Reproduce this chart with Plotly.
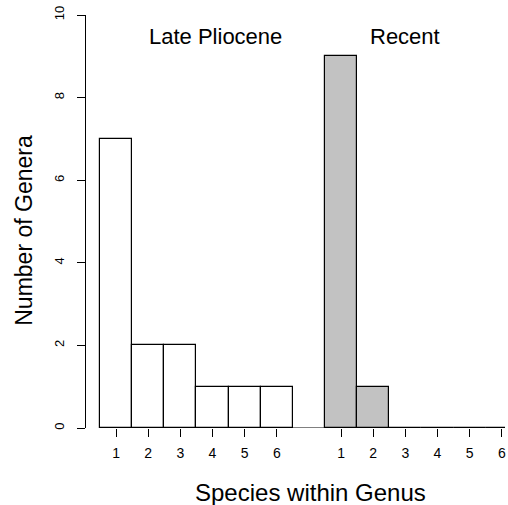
import plotly.graph_objects as go

species = [1, 2, 3, 4, 5, 6]
late_pliocene = [7, 2, 2, 1, 1, 1]
recent = [9, 1, 0, 0, 0, 0]
group_labels = ["Late Pliocene", "Recent"]
x_title = "Species within Genus"
y_title = "Number of Genera"
y_ticks = [0, 2, 4, 6, 8, 10]

gap = 1
pos_lp = [s for s in species]
pos_rc = [s + len(species) + gap for s in species]

FONT = "Liberation Sans, Arial, sans-serif"

fig = go.Figure()
fig.add_trace(go.Bar(x=pos_lp, y=late_pliocene, width=1,
                     marker=dict(color="white", line=dict(color="black", width=1.2)),
                     showlegend=False))
fig.add_trace(go.Bar(x=pos_rc, y=recent, width=1,
                     marker=dict(color="#c2c2c2", line=dict(color="black", width=1.2)),
                     showlegend=False))

# baseline axis segment (R style)
fig.add_shape(type="line", x0=pos_lp[0] - 0.5, x1=pos_rc[-1], y0=0, y1=0,
              xref="x", yref="y", line=dict(color="black", width=1))

fig.add_annotation(x=4.08, y=9.47, yref="y", xref="x",
                   text=group_labels[0], showarrow=False, yanchor="middle",
                   font=dict(family=FONT, size=22, color="black"))
fig.add_annotation(x=9.99, y=9.47, yref="y", xref="x",
                   text=group_labels[1], showarrow=False, yanchor="middle",
                   font=dict(family=FONT, size=22, color="black"))

# axis titles
fig.add_annotation(x=0.535, y=-0.155, xref="paper", yref="paper",
                   text=x_title, showarrow=False, yanchor="middle", xanchor="center",
                   font=dict(family=FONT, size=24, color="black"))
fig.add_annotation(x=-0.148, y=0.48, xref="paper", yref="paper",
                   text=y_title, showarrow=False, textangle=-90,
                   yanchor="middle", xanchor="center",
                   font=dict(family=FONT, size=23, color="black"))

fig.update_layout(
    width=508, height=505,
    margin=dict(l=86, r=3, t=15, b=77),
    plot_bgcolor="white", paper_bgcolor="white",
    bargap=0,
    font=dict(family=FONT, color="black"),
    xaxis=dict(range=[0.065, 13.1], tickmode="array",
               tickvals=pos_lp + pos_rc, ticktext=[str(s) for s in species] * 2,
               ticks="outside", ticklen=8, tickcolor="black", tickwidth=1,
               showline=False, showgrid=False, zeroline=False,
               ticklabelstandoff=4,
               tickfont=dict(size=14, family=FONT)),
    yaxis=dict(range=[0, 10], tickmode="array", tickvals=y_ticks,
               ticks="outside", ticklen=8, tickcolor="black", tickwidth=1,
               showline=True, linecolor="black", linewidth=1,
               showgrid=False, zeroline=False, tickangle=-90,
               ticklabelstandoff=8,
               tickfont=dict(size=13, family=FONT)),
)

fig.write_html("out.html")
